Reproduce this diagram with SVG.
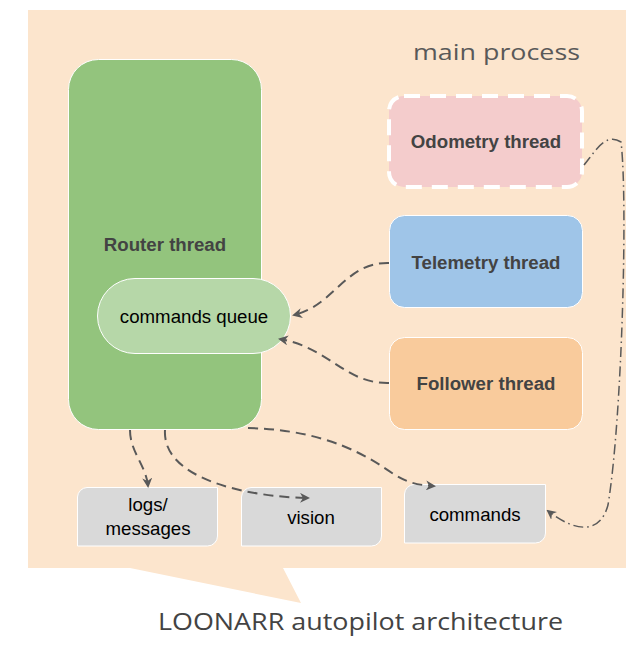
<svg xmlns="http://www.w3.org/2000/svg" width="626" height="647" viewBox="0 0 626 647">
<style>
.thread{stroke:#fff;stroke-width:1}
.tl{font-family:"Liberation Sans",Arial,sans-serif;font-weight:bold;font-size:18.67px;fill:#434343;text-anchor:middle}
.bl{font-family:"Liberation Sans",Arial,sans-serif;font-size:18.67px;fill:#000;text-anchor:middle}
.box{fill:#d9d9d9;stroke:#fff;stroke-width:1}
.conn{fill:none;stroke:#595959;stroke-width:2;stroke-dasharray:10 6}
.dd{fill:none;stroke:#595959;stroke-width:1.5;stroke-dasharray:10 4 1.5 4}
.title{font-family:"Open Sans","Noto Sans",sans-serif}
</style>
<defs>
<marker id="ah" viewBox="0 0 10 10" refX="8" refY="5" markerWidth="10" markerHeight="10" markerUnits="userSpaceOnUse" orient="auto">
<path d="M0,0 L10,5 L0,10 L3,5 z" fill="#595959"/>
</marker>
</defs>
<g id="background">
<path d="M28,10 H626 V568 H283 L301,603 L130,568 H28 Z" fill="#fce5cd"/>
<text class="title" x="413" y="60" font-size="22" fill="#595959" textLength="167" lengthAdjust="spacingAndGlyphs">main process</text>
<text class="title" x="158" y="630" font-size="24" fill="#434343" textLength="405" lengthAdjust="spacingAndGlyphs">LOONARR autopilot architecture</text>
</g>
<g id="router">
<rect class="thread" x="68.5" y="59.5" width="193" height="370" rx="30" fill="#93c47d"/>
<text class="tl" x="165" y="251">Router thread</text>
</g>
<g id="queue">
<rect x="97.5" y="278.5" width="193" height="75" rx="37.5" fill="#b6d7a8" stroke="#fff" stroke-width="1"/>
<text class="bl" x="194" y="323">commands queue</text>
</g>
<g id="odometry">
<rect x="389" y="96" width="193" height="91" rx="15" fill="#f4cccc" stroke="#fff" stroke-width="4" stroke-dasharray="16 10"/>
<text class="tl" x="486" y="148">Odometry thread</text>
</g>
<g id="telemetry">
<rect class="thread" x="389.5" y="215.5" width="193" height="92" rx="15" fill="#9fc5e8"/>
<text class="tl" x="486" y="269">Telemetry thread</text>
</g>
<g id="follower">
<rect class="thread" x="389.5" y="337.5" width="193" height="92" rx="15" fill="#f9cb9c"/>
<text class="tl" x="486" y="390">Follower thread</text>
</g>
<g id="logs">
<path class="box" d="M87,487.5 H217.5 V536 A10,10 0 0 1 207.5,546 H77.5 V497 A10,10 0 0 1 87,487.5 Z"/>
<text class="bl" x="148" y="511">logs/</text>
<text class="bl" x="148" y="535">messages</text>
</g>
<g id="vision">
<path class="box" d="M251,487.5 H381.5 V536 A10,10 0 0 1 371.5,546 H241.5 V497 A10,10 0 0 1 251,487.5 Z"/>
<text class="bl" x="311" y="524">vision</text>
</g>
<g id="commands">
<path class="box" d="M414,484.5 H545.5 V533 A10,10 0 0 1 535.5,543 H404.5 V494 A10,10 0 0 1 414,484.5 Z"/>
<text class="bl" x="475" y="521">commands</text>
</g>
<g id="connectors">
<path class="conn" d="M389,263 C345,262 335,305 294,315" marker-end="url(#ah)"/>
<path class="conn" d="M389,383 C345,384 330,348 280,339" marker-end="url(#ah)"/>
<path class="conn" d="M130,430 C130,452 146,465 148,486" marker-end="url(#ah)"/>
<path class="conn" d="M165,430 C162,480 250,497 308,498" marker-end="url(#ah)"/>
<path class="conn" d="M248,428 C330,430 370,458 395,475 C410,484 420,485 434,486" marker-end="url(#ah)"/>
<path class="dd" d="M584,165 C595,152 605,132 621,142 C628,200 622,420 608,505 C600,535 575,532 548,511" marker-end="url(#ah)"/>
</g>
</svg>
